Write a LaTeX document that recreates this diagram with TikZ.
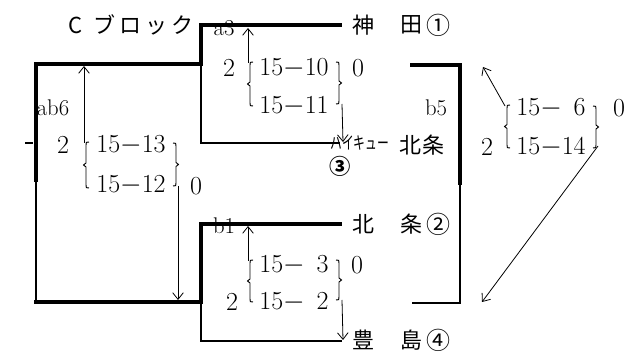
\documentclass[tikz,border=0pt]{standalone}
\usepackage{fontspec}
\newfontfamily\jp{Noto Sans CJK JP}
\usetikzlibrary{arrows.meta}
\tikzset{
 thickline/.style={line width=2.6pt, line join=miter, line cap=rect},
 thinline/.style={line width=0.8pt},
 arr/.style={line width=0.6pt, -{Straight Barb[length=5pt,width=8pt,line width=0.6pt]}},
 brc/.style={line width=0.7pt},
 num/.style={inner sep=0pt, font=\fontsize{19.5}{19.5}\selectfont},
 lab/.style={inner sep=0pt, font=\fontsize{17}{17}\selectfont},
 jpt/.style={inner sep=0pt, font=\jp\fontsize{16.5}{16.5}\selectfont},
 circ/.style={inner sep=0pt, font=\jp\fontsize{18}{18}\selectfont},
}
\newcommand\mylbrace[3]{\draw[brc] ({#1+3},#2) .. controls (#1,#2) .. (#1,{#2+3}) -- (#1,{(#2+#3)/2-2}) -- ({#1-2.5},{(#2+#3)/2}) -- (#1,{(#2+#3)/2+2}) -- (#1,{#3-3}) .. controls (#1,#3) .. ({#1+3},#3);}
\newcommand\myrbrace[3]{\draw[brc] ({#1-3},#2) .. controls (#1,#2) .. (#1,{#2+3}) -- (#1,{(#2+#3)/2-2}) -- ({#1+2.5},{(#2+#3)/2}) -- (#1,{(#2+#3)/2+2}) -- (#1,{#3-3}) .. controls (#1,#3) .. ({#1-3},#3);}
\newcommand\mm{$-$}
\begin{document}
\begin{tikzpicture}[x=0.75pt,y=-0.75pt]
\useasboundingbox (0,0) rectangle (642,352);
% corners
\coordinate (L1) at (36,180);
\coordinate (L2) at (36,64);
\coordinate (L3) at (201,64);
\coordinate (L4) at (201,25);
\coordinate (L5) at (340,25);
\coordinate (L6) at (36,302);
\coordinate (L7) at (201,302);
\coordinate (L8) at (201,224);
\coordinate (L9) at (340,224);
\coordinate (M1) at (201,143);
\coordinate (M2) at (340,143);
\coordinate (M3) at (201,341);
\coordinate (M4) at (342,341);
\coordinate (R1) at (412,65);
\coordinate (R2) at (460,65);
\coordinate (R3) at (460,183);
\coordinate (R4) at (460,303);
\coordinate (R5) at (412,303);
\coordinate (T1) at (25,143);
\coordinate (T2) at (33,143);
% bracket lines
\draw[thickline] (L1) -- (L2) -- (L3) -- (L4) -- (L5);
\draw[thinline] (L1) -- (L6);
\draw[thickline] (L6) -- (L7) -- (L8) -- (L9);
\draw[thinline] (L3) -- (M1) -- (M2);
\draw[thinline] (L7) -- (M3) -- (M4);
\draw[thickline] (R1) -- (R2) -- (R3);
\draw[thinline] (R3) -- (R4) -- (R5);
\draw[thinline] (T1) -- (T2);
% labels on lines
\node[lab] (a3) at (224,28) {a3};
\node[lab] (b1) at (224,226) {b1};
\node[lab] (ab6) at (53,108) {ab6};
\node[lab] (b5) at (436,108) {b5};
% team names
\node[jpt] (cb) at (131,25) {C\hspace{8pt}ブ\hspace{3pt}ロ\hspace{3pt}ッ\hspace{3pt}ク};
\node[jpt] (k1) at (363,25) {神};
\node[jpt] (k2) at (411,25) {田};
\node[circ] (k3) at (438,25) {①};
\node[jpt] (h1) at (363,224) {北};
\node[jpt] (h2) at (411,224) {条};
\node[circ] (h3) at (438,224) {②};
\node[jpt] (t1) at (363,340) {豊};
\node[jpt] (t2) at (411,340) {島};
\node[circ] (t3) at (438,340) {④};
\node[inner sep=0pt, font=\jp\fontsize{13}{13}\selectfont, xscale=0.68] (hq) at (360,143) {ハイキュー};
\node[jpt] (hj) at (422,145) {北\hspace{1pt}条};
\node[inner sep=0pt, font=\jp\bfseries\fontsize{16}{16}\selectfont] (c3) at (340,166) {③};
% group A (a3)
\node[num] (A2) at (229,68) {2};
\node[num] (A11) at (294,68) {15\mm10};
\node[num] (A12) at (294,106) {15\mm11};
\node[num] (A0) at (358,68) {0};
\mylbrace{250}{62}{106}
\myrbrace{339}{62}{104}
\coordinate (Au1) at (248,63);
\coordinate (Au2) at (248,28);
\draw[arr] (Au1) -- (Au2);
\coordinate (Ad1) at (342,104);
\coordinate (Ad2) at (343,142);
\draw[arr] (Ad1) -- (Ad2);
% group B (ab6)
\node[num] (B2) at (63,145) {2};
\node[num] (B11) at (131,145) {15\mm13};
\node[num] (B12) at (131,185) {15\mm12};
\node[num] (B0) at (196,186) {0};
\mylbrace{86}{142}{188}
\myrbrace{176}{143}{186}
\coordinate (Bu1) at (84,143);
\coordinate (Bu2) at (84,66);
\draw[arr] (Bu1) -- (Bu2);
\coordinate (Bd1) at (178,186);
\coordinate (Bd2) at (178,300);
\draw[arr] (Bd1) -- (Bd2);
% group C (b1)
\node[num] (C2) at (232,302) {2};
\node[num] (C11) at (294,265) {15\mm\phantom{1}3};
\node[num] (C12) at (294,302) {15\mm\phantom{1}2};
\node[num] (C0) at (357,265) {0};
\mylbrace{250}{260}{302}
\myrbrace{339}{260}{300}
\coordinate (Cu1) at (248,261);
\coordinate (Cu2) at (248,226);
\draw[arr] (Cu1) -- (Cu2);
\coordinate (Cd1) at (342,300);
\coordinate (Cd2) at (343,340);
\draw[arr] (Cd1) -- (Cd2);
% group D (b5)
\node[num] (D2) at (487,147) {2};
\node[num] (D11) at (551,108) {15\mm\phantom{1}6};
\node[num] (D12) at (551,147) {15\mm14};
\node[num] (D0) at (619,108) {0};
\mylbrace{507}{105}{148}
\myrbrace{596}{106}{148}
\coordinate (Du1) at (505,106);
\coordinate (Du2) at (483,67);
\draw[arr] (Du1) -- (Du2);
\coordinate (Dd1) at (598,146);
\coordinate (Dd2) at (482,302);
\draw[arr] (Dd1) -- (Dd2);
\end{tikzpicture}
\end{document}
